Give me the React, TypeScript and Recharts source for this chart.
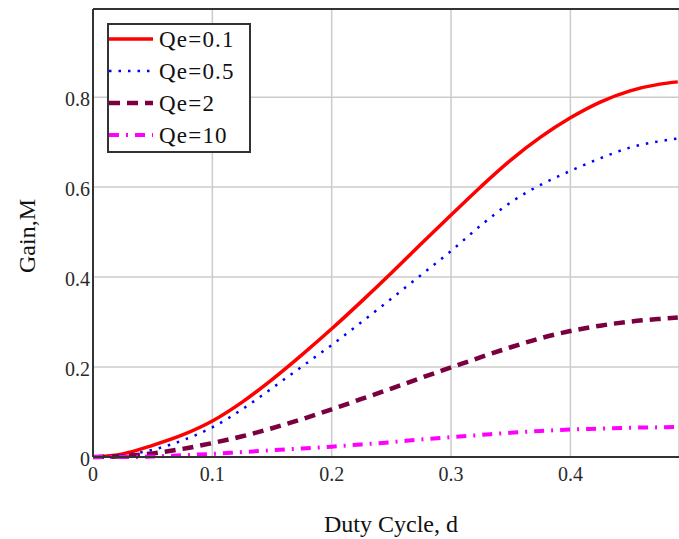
import React from "react";
import { LineChart, Line, XAxis, YAxis, CartesianGrid, Legend, ReferenceLine } from "recharts";

// duty cycle samples and gain curves
const duty = [0, 0.025, 0.05, 0.075, 0.1, 0.125, 0.15, 0.175, 0.2, 0.225, 0.25, 0.275, 0.3, 0.325, 0.35, 0.375, 0.4, 0.425, 0.45, 0.475, 0.49];
const gainQe01 = [0, 0.007, 0.026, 0.049, 0.08, 0.122, 0.172, 0.227, 0.285, 0.346, 0.409, 0.474, 0.538, 0.601, 0.66, 0.711, 0.754, 0.789, 0.814, 0.829, 0.834];
const gainQe05 = [0, 0.004, 0.016, 0.037, 0.066, 0.106, 0.153, 0.201, 0.249, 0.3, 0.352, 0.405, 0.458, 0.515, 0.566, 0.605, 0.636, 0.664, 0.688, 0.702, 0.708];
const gainQe2 = [0, 0.002, 0.008, 0.018, 0.031, 0.046, 0.064, 0.084, 0.106, 0.129, 0.152, 0.176, 0.199, 0.222, 0.244, 0.264, 0.28, 0.292, 0.301, 0.307, 0.31];
const gainQe10 = [0, 0, 0.001, 0.004, 0.007, 0.011, 0.015, 0.019, 0.023, 0.028, 0.033, 0.039, 0.044, 0.049, 0.054, 0.058, 0.061, 0.063, 0.065, 0.066, 0.067];

const xTicks = [0, 0.1, 0.2, 0.3, 0.4];
const yTicks = [0, 0.2, 0.4, 0.6, 0.8];
const xMax = 0.491;
const yMax = 0.996;

const series = [
    { key: "qe01", name: "Qe=0.1", color: "#ff0000", width: 3.5, dash: undefined as string | undefined },
    { key: "qe05", name: "Qe=0.5", color: "#0000ff", width: 2.5, dash: "2.5 7" },
    { key: "qe2", name: "Qe=2", color: "#7a0040", width: 4.5, dash: "11 7" },
    { key: "qe10", name: "Qe=10", color: "#ff00ff", width: 4, dash: "10 7 2 7" },
];

const data = duty.map((d, i) => ({
    d,
    qe01: gainQe01[i],
    qe05: gainQe05[i],
    qe2: gainQe2[i],
    qe10: gainQe10[i],
}));

const serif = "'Liberation Serif', 'Times New Roman', serif";

const LegendBox = () => (
    <svg width={144} height={130} style={{ display: "block" }}>
        <rect x={1} y={1} width={142} height={128} fill="#fff" stroke="#333" strokeWidth={2} />
        {series.map((s, i) => {
            const cy = 16 + i * 32;
            return (
                <g key={s.key}>
                    <line x1={2} x2={46} y1={cy} y2={cy} stroke={s.color} strokeWidth={s.width} strokeDasharray={s.dash} />
                    <text x={52} y={cy} dominantBaseline="central" fontFamily={serif} fontSize={23} letterSpacing={1.2} fill="#111">
                        {s.name}
                    </text>
                </g>
            );
        })}
    </svg>
);

const YTitle = (props: any) => {
    const vb = props.viewBox || { x: 0, y: 0, width: 0, height: 0 };
    const cx = vb.x + 35;
    const cy = vb.y + vb.height / 2 + 3;
    return (
        <text x={cx} y={cy} transform={`rotate(-90 ${cx} ${cy})`} textAnchor="middle" fontFamily={serif} fontSize={24} fill="#111">
            Gain,M
        </text>
    );
};

const XTitle = (props: any) => {
    const vb = props.viewBox || { x: 0, y: 0, width: 0, height: 0 };
    const cx = vb.x + vb.width / 2 + 5;
    const cy = vb.y + vb.height - 7;
    return (
        <text x={cx} y={cy} textAnchor="middle" fontFamily={serif} fontSize={24} fill="#111">
            Duty Cycle, d
        </text>
    );
};

export default function App() {
    return (
        <div style={{ position: "absolute", left: 0, top: 0, width: 679, height: 539, background: "#fff" }}>
            <LineChart width={679} height={539} data={data} margin={{ top: 9, right: 0, left: 0, bottom: 0 }}>
                <CartesianGrid stroke="#cccccc" strokeWidth={1.5} />
                <XAxis
                    dataKey="d"
                    type="number"
                    domain={[0, xMax]}
                    ticks={xTicks}
                    height={82}
                    tickSize={0}
                    tickMargin={10}
                    tickLine={false}
                    axisLine={{ stroke: "#333", strokeWidth: 2 }}
                    tick={{ fontFamily: serif, fontSize: 20, fill: "#2a2a2a" }}
                    label={XTitle}
                />
                <YAxis
                    type="number"
                    domain={[0, yMax]}
                    ticks={yTicks}
                    width={93}
                    tickSize={0}
                    tickMargin={3}
                    tickLine={false}
                    axisLine={{ stroke: "#333", strokeWidth: 2 }}
                    tick={{ fontFamily: serif, fontSize: 20, fill: "#2a2a2a", dy: 2 }}
                    label={YTitle}
                />
                <ReferenceLine y={yMax} stroke="#333" strokeWidth={2} />
                {series.map(s => (
                    <Line
                        key={s.key}
                        dataKey={s.key}
                        name={s.name}
                        type="monotone"
                        stroke={s.color}
                        strokeWidth={s.width}
                        strokeDasharray={s.dash}
                        dot={false}
                        activeDot={false}
                        isAnimationActive={false}
                    />
                ))}
                <Legend
                    layout="vertical"
                    align="center"
                    verticalAlign="middle"
                    wrapperStyle={{ left: 107, top: 23, width: 144, height: 130 }}
                    content={LegendBox}
                />
            </LineChart>
        </div>
    );
}
